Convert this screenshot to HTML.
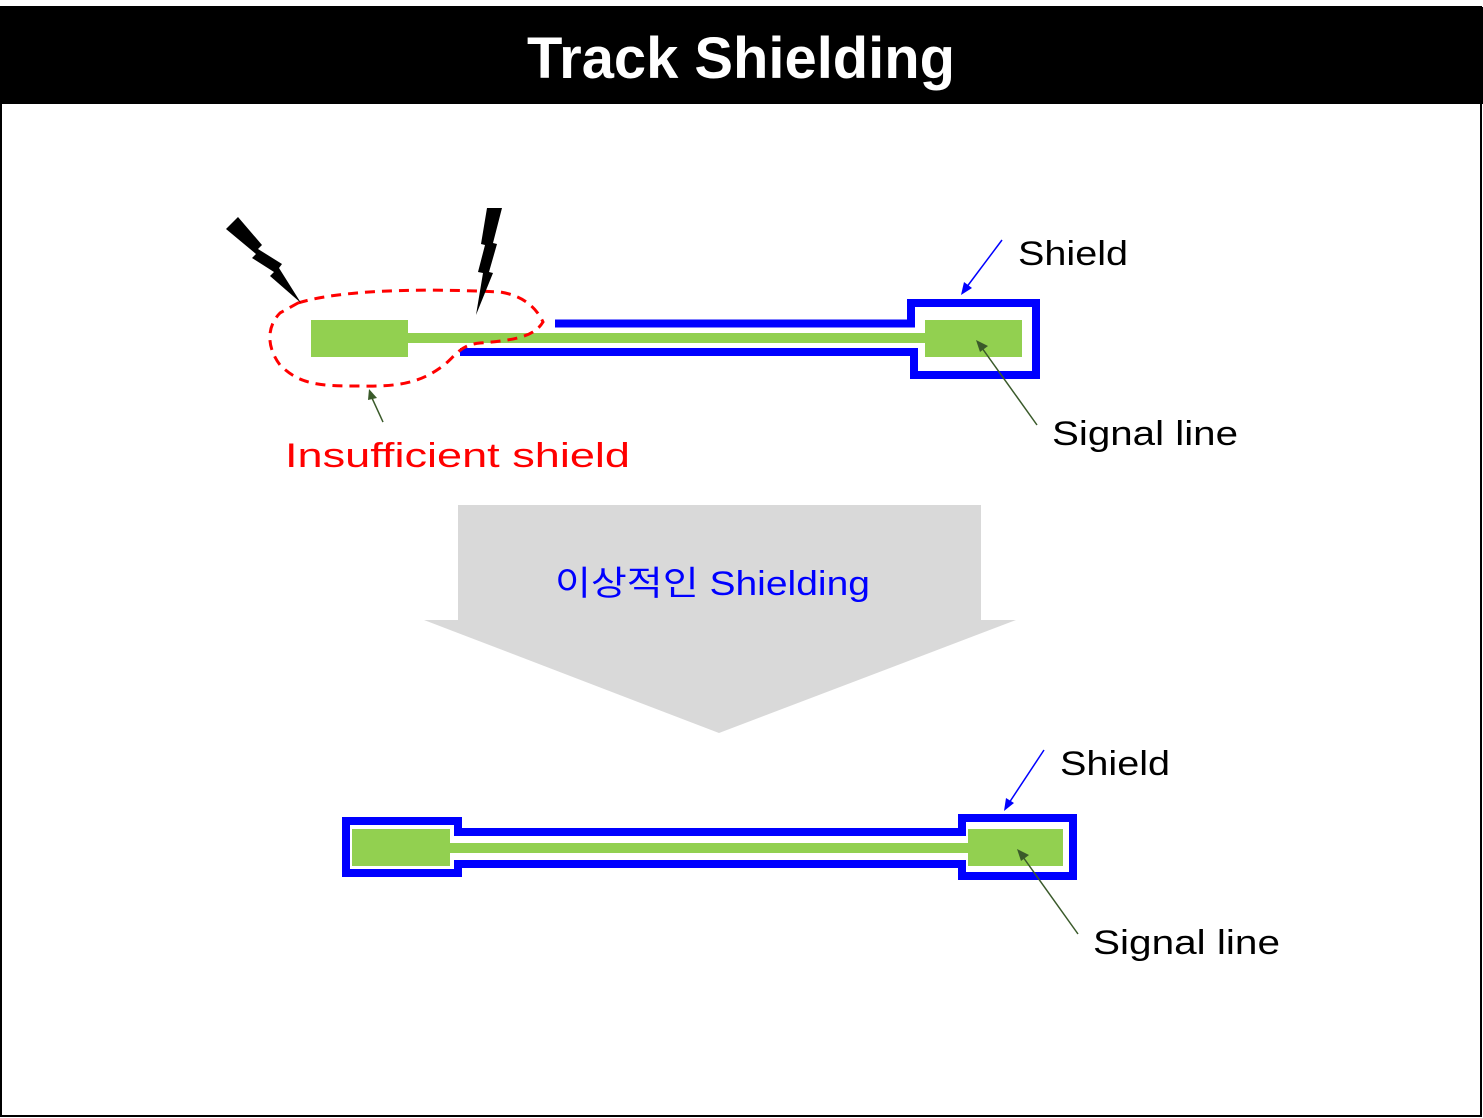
<!DOCTYPE html>
<html><head><meta charset="utf-8"><style>
html,body{margin:0;padding:0;background:#fff}
svg{display:block}
text{font-family:"Liberation Sans","Noto Sans CJK KR",sans-serif}
</style></head><body>
<svg width="1483" height="1118" viewBox="0 0 1483 1118" xmlns="http://www.w3.org/2000/svg">
<rect x="1" y="7" width="1480" height="1109" fill="#fff" stroke="#000" stroke-width="2"/>
<rect x="0" y="7" width="1483" height="97" fill="#000"/>
<text x="527" y="78" textLength="428" lengthAdjust="spacingAndGlyphs" font-size="58" font-weight="bold" fill="#fff">Track Shielding</text>

<rect x="311" y="320" width="97" height="37" fill="#92d050"/>
<rect x="408" y="333" width="520" height="10" fill="#92d050"/>
<rect x="925" y="320" width="97" height="37" fill="#92d050"/>
<polyline points="555,323.5 911,323.5 911,303 1036,303 1036,375 914,375 914,352 460,352" fill="none" stroke="#0000ff" stroke-width="8"/>
<path d="M298,303 C340,290 420,288 500,292 C520,295 535,305 543,322 C535,335 520,340 480,343 C458,345 455,358 440,368 C420,382 400,387 360,386 C320,386 300,385 280,365 C265,345 268,325 280,313 Z" fill="none" stroke="#ff0000" stroke-width="3" stroke-dasharray="10,7"/>
<polygon points="226,229 238,217 262,245 258,249 282,264 279,268 301,303 270,276 274,272 252,258 256,254" fill="#000"/>
<polygon points="487,208 502,208 493,243 497,244 489,272 493,273 476,315 483,273 478,272 485,245 481,244" fill="#000"/>

<text x="1018" y="265" textLength="110" lengthAdjust="spacingAndGlyphs" font-size="34" fill="#000">Shield</text>
<line x1="1002" y1="240" x2="966" y2="288" stroke="#0000ff" stroke-width="1.5"/>
<polygon points="961,295 964,282 972,288" fill="#0000ff"/>
<text x="1052" y="445" textLength="186" lengthAdjust="spacingAndGlyphs" font-size="34" fill="#000">Signal line</text>
<line x1="1037" y1="425" x2="982" y2="348" stroke="#3a5a2a" stroke-width="1.5"/>
<polygon points="976,340 988,346 980,352" fill="#3a5a2a"/>
<text x="285" y="467" textLength="345" lengthAdjust="spacingAndGlyphs" font-size="34" fill="#ff0000">Insufficient shield</text>
<line x1="383" y1="422" x2="372" y2="398" stroke="#3a5a2a" stroke-width="1.5"/>
<polygon points="369,389 377,398 368,400" fill="#3a5a2a"/>

<polygon points="458,505 981,505 981,620 1016,620 719,733 424,620 458,620" fill="#d9d9d9"/>
<text x="555" y="595" textLength="315" lengthAdjust="spacingAndGlyphs" font-size="34" fill="#0000ff">이상적인 Shielding</text>

<rect x="352" y="829" width="98" height="37" fill="#92d050"/>
<rect x="450" y="843" width="520" height="10" fill="#92d050"/>
<rect x="968" y="829" width="95" height="37" fill="#92d050"/>
<path d="M346,821 L458,821 L458,832 L962,832 L962,818 L1073,818 L1073,876 L962,876 L962,864 L458,864 L458,873 L346,873 Z" fill="none" stroke="#0000ff" stroke-width="8"/>
<text x="1060" y="775" textLength="110" lengthAdjust="spacingAndGlyphs" font-size="34" fill="#000">Shield</text>
<line x1="1044" y1="750" x2="1009" y2="803" stroke="#0000ff" stroke-width="1.5"/>
<polygon points="1004,811 1006,798 1014,803" fill="#0000ff"/>
<text x="1093" y="954" textLength="187" lengthAdjust="spacingAndGlyphs" font-size="34" fill="#000">Signal line</text>
<line x1="1078" y1="934" x2="1023" y2="857" stroke="#3a5a2a" stroke-width="1.5"/>
<polygon points="1017,849 1029,855 1021,861" fill="#3a5a2a"/>
</svg>
</body></html>
